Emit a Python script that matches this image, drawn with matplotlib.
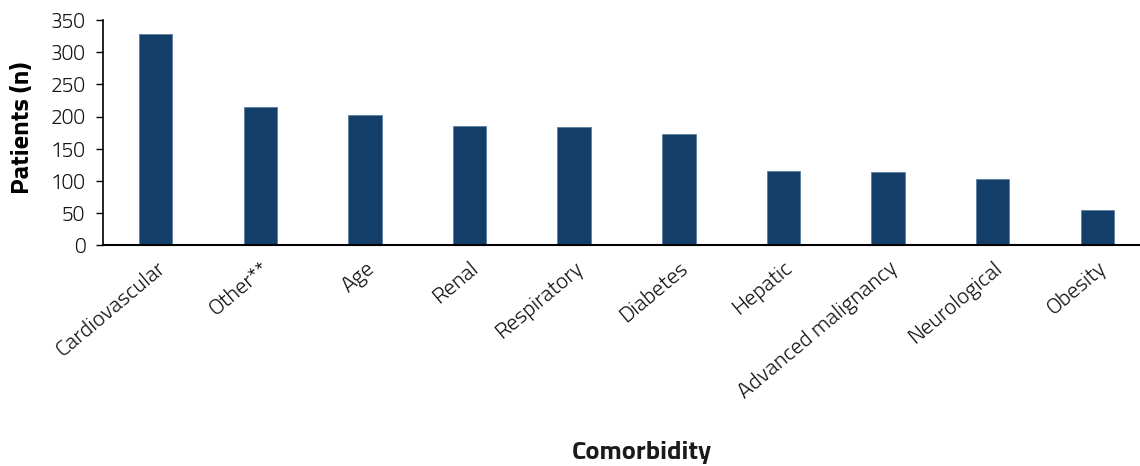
import matplotlib.pyplot as plt
from matplotlib.transforms import ScaledTranslation

# Comorbidity counts
categories = ["Cardiovascular", "Other**", "Age", "Renal", "Respiratory",
              "Diabetes", "Hepatic", "Advanced malignancy", "Neurological", "Obesity"]
patients = [328, 214, 202, 185, 183, 173, 115, 114, 103, 54]

plt.rcParams["font.family"] = ["Titillium Web", "DejaVu Sans"]
plt.rcParams["text.color"] = "#1a1a1a"

fig = plt.figure(figsize=(11.4, 4.66), dpi=100)
ax = fig.add_axes([0.0907, 0.474, 0.9085, 0.483])

x = range(len(categories))
ax.bar(x, patients, width=0.32, color="#143e6a", edgecolor="#5d7fa3", linewidth=0.6)

ax.set_xlim(-0.5, 9.4)
ax.set_ylim(0, 350)
ax.set_yticks(range(0, 351, 50))
ax.set_xticks(list(x))
ax.set_xticklabels(categories, rotation=40, ha="right", va="top", rotation_mode="anchor",
                   fontsize=16, color="#111111", fontweight=300)
shift = ScaledTranslation(7 / 100, 0, fig.dpi_scale_trans)
for t in ax.get_xticklabels():
    t.set_transform(t.get_transform() + shift)
ax.tick_params(axis="y", labelsize=15, length=5, width=1, pad=8, labelcolor="#111111")
for t in ax.get_yticklabels():
    t.set_fontweight(300)
ax.tick_params(axis="x", length=0, pad=9)

for s in ["top", "right"]:
    ax.spines[s].set_visible(False)
ax.spines["left"].set_linewidth(1.2)
ax.spines["bottom"].set_linewidth(1.5)

ax.set_ylabel("Patients (n)", fontsize=19, fontweight="bold")
ax.yaxis.set_label_coords(-0.067, 0.522)
fig.text(0.563, 0.03, "Comorbidity", fontsize=19, fontweight="bold", ha="center", va="center")

fig.savefig("out.png", dpi=100)
